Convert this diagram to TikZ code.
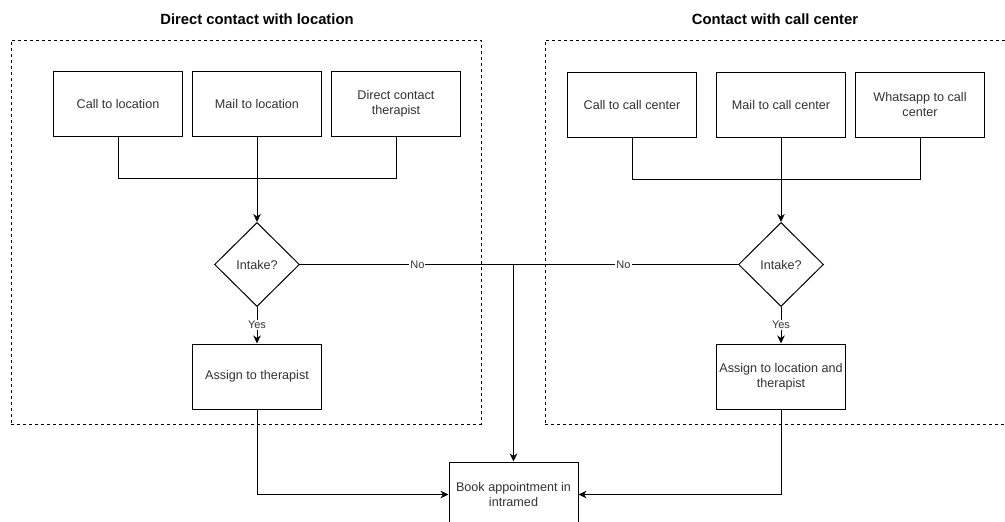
\documentclass[tikz,border=0pt]{standalone}
\usepackage{fontspec}
\setmainfont{Liberation Sans}
\usetikzlibrary{shapes.geometric,arrows.meta}
\definecolor{txt}{HTML}{333333}
\tikzset{
  box/.style={draw=black, line width=1pt, rectangle, minimum width=129pt, minimum height=65pt, inner sep=0pt, align=center, text=txt, font=\fontsize{12.6}{15}\selectfont},
  dec/.style={draw=black, line width=1pt, diamond, minimum width=85pt, minimum height=84pt, inner sep=0pt, text=txt, font=\fontsize{12.6}{15}\selectfont},
  container/.style={draw=black, line width=0.9pt, dash pattern=on 3pt off 3pt, rectangle, minimum width=470pt, minimum height=384pt, inner sep=0pt},
  ttl/.style={font=\bfseries\fontsize{14.8}{17}\selectfont, text=black},
  lbl/.style={fill=white, inner sep=1pt, text=txt, font=\fontsize{11}{13}\selectfont},
  conn/.style={draw=black, line width=1pt},
  arr/.style={conn, -{Stealth[length=8pt,width=7.5pt,inset=2.5pt]}}
}
\begin{document}
\begin{tikzpicture}[x=1pt,y=-1pt]
\useasboundingbox (0,0) rectangle (1005,522);
\clip (0,0) rectangle (1005,522);
\fill[white] (0,0) rectangle (1005,522);
% containers
\node[container] (L) at (246,232) {};
\node[container] (R) at (780,232) {};
\node[ttl] (tL) at (257,19) {Direct contact with location};
\node[ttl] (tR) at (775,19) {Contact with call center};
% left group
\node[box] (c1) at (118,103.5) {Call to location};
\node[box] (c2) at (257,103.5) {Mail to location};
\node[box] (c3) at (396,103.5) {Direct contact\\therapist};
\coordinate (jL) at (257,178);
\node[dec] (d1) at (257,264.5) {Intake?};
\node[box] (a1) at (257,376.5) {Assign to therapist};
% right group
\node[box] (r1) at (632,104.5) {Call to call center};
\node[box] (r2) at (781,104.5) {Mail to call center};
\node[box] (r3) at (920,104.5) {Whatsapp to call\\center};
\coordinate (jR) at (781,179);
\node[dec] (d2) at (781,264.5) {Intake?};
\node[box] (a2) at (781,376.5) {Assign to location and\\therapist};
% book
\node[box] (bk) at (513.5,494.5) {Book appointment in\\intramed};
\coordinate (nj) at (513.5,264.5);
% connectors left
\draw[conn] (c1.south) |- (jL);
\draw[conn] (c3.south) |- (jL);
\draw[arr] (c2.south) -- (d1.north);
\draw[arr] (d1.south) -- node[lbl] {Yes} (a1.north);
\draw[arr] (a1.south) |- (bk.west);
\draw[conn] (d1.east) -- node[lbl, pos=0.55] {No} (nj);
% connectors right
\draw[conn] (r1.south) |- (jR);
\draw[conn] (r3.south) |- (jR);
\draw[arr] (r2.south) -- (d2.north);
\draw[arr] (d2.south) -- node[lbl] {Yes} (a2.north);
\draw[arr] (a2.south) |- (bk.east);
\draw[conn] (d2.west) -- node[lbl, pos=0.51] {No} (nj);
\draw[arr] (nj) -- (bk.north);
\end{tikzpicture}
\end{document}
